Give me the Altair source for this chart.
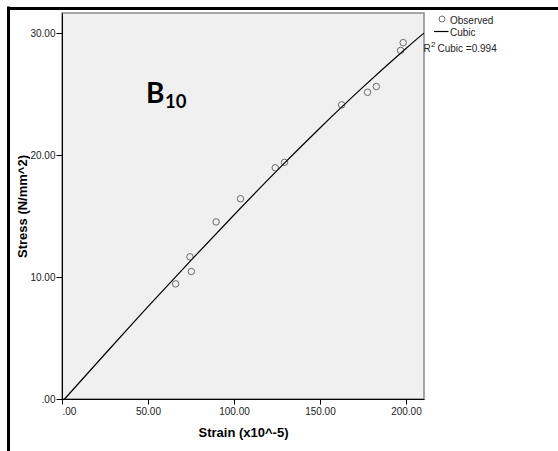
import altair as alt
import pandas as pd

strain = [66.1, 75.2, 74.4, 89.6, 103.8, 124.0, 129.4, 162.6, 177.7, 182.8, 196.9, 198.4]
stress = [9.44, 10.45, 11.66, 14.52, 16.42, 18.96, 19.40, 24.12, 25.15, 25.62, 28.58, 29.22]

# Cubic fit curve
fit_strain = [1.5, 25, 50, 75, 100, 125, 150, 175, 200, 210.5]
fit_stress = [0.0, 3.69, 7.57, 11.37, 15.09, 18.72, 22.22, 25.57, 28.74, 30.0]

x_ticks = [0, 50, 100, 150, 200]
y_ticks = [0, 10, 20, 30]
legend_labels = ["Observed", "Cubic"]
r2_parts = ["R", "2", "Cubic =0.994"]
panel_main = ["B"]
panel_sub = ["10"]

FONT = "Liberation Sans"
LABEL_EXPR = "datum.value == 0 ? '.00' : format(datum.value, '.2f')"

obs = pd.DataFrame({"strain": strain, "stress": stress})
fit = pd.DataFrame({"strain": fit_strain, "stress": fit_stress})

xscale = alt.Scale(domain=[0, 210.5], nice=False, zero=False)
yscale = alt.Scale(domain=[0, 31.65], nice=False, zero=False)

xaxis = alt.Axis(values=x_ticks, labelExpr=LABEL_EXPR, title="Strain (x10^-5)",
                 tickSize=5, labelPadding=2, titleX=181, titleY=33,
                 titleBaseline="middle", titleAlign="center")
yaxis = alt.Axis(values=y_ticks, labelExpr=LABEL_EXPR, title="Stress (N/mm^2)",
                 tickSize=6, labelPadding=1, titleX=-40, titleY=193,
                 titleAngle=-90, titleBaseline="middle", titleAlign="center")

points = alt.Chart(obs).mark_point(shape="circle", filled=False, color="#333333",
                                   size=42, strokeWidth=1).encode(
    x=alt.X("strain:Q", scale=xscale, axis=xaxis),
    y=alt.Y("stress:Q", scale=yscale, axis=yaxis),
)

line = alt.Chart(fit).mark_line(color="black", strokeWidth=1.2, interpolate="natural").encode(
    x=alt.X("strain:Q", scale=xscale, axis=xaxis),
    y=alt.Y("stress:Q", scale=yscale, axis=yaxis),
)

# Panel label B10
b_main = alt.Chart(pd.DataFrame({"t": panel_main})).mark_text(
    font="Lato", fontWeight="bold", fontSize=28, align="left", baseline="alphabetic", color="black"
).encode(x=alt.value(84), y=alt.value(90), text="t:N")
b_sub = alt.Chart(pd.DataFrame({"t": panel_sub})).mark_text(
    font="Lato", fontWeight="bold", fontSize=18.5, align="left", baseline="alphabetic", color="black"
).encode(x=alt.value(103), y=alt.value(95), text="t:N")

# Legend
leg_pt = alt.Chart(pd.DataFrame({"t": legend_labels[:1]})).mark_point(
    shape="circle", filled=False, color="#333333", size=36, strokeWidth=1
).encode(x=alt.value(380), y=alt.value(6))
leg_line = alt.Chart(pd.DataFrame({"t": legend_labels[1:]})).mark_rule(
    color="black", strokeWidth=1.2
).encode(x=alt.value(372), x2=alt.value(386.5), y=alt.value(18.5))
leg_txt = alt.Chart(pd.DataFrame({"t": legend_labels, "yy": [7.5, 19.5]})).mark_text(
    font=FONT, fontSize=10, align="left", baseline="middle", color="#222222"
).encode(x=alt.value(388), y=alt.Y("yy:Q", scale=None), text="t:N")
r2_txt = alt.Chart(pd.DataFrame({"t": r2_parts, "xx": [361.5, 369.0, 375.5],
                                 "yy": [36.2, 32.0, 36.2], "fs": [10, 8, 10]})).mark_text(
    font=FONT, align="left", baseline="middle", color="#222222"
).encode(x=alt.X("xx:Q", scale=None), y=alt.Y("yy:Q", scale=None), text="t:N",
         size=alt.Size("fs:Q", scale=None, legend=None))

# Outer frame (decorative)
frame_v = alt.Chart(pd.DataFrame({"k": [0]})).mark_rule(color="black", strokeWidth=3).encode(
    x=alt.value(-53.5), y=alt.value(-6.5), y2=alt.value(440))
frame_h = alt.Chart(pd.DataFrame({"k": [0]})).mark_rule(color="black", strokeWidth=3).encode(
    x=alt.value(-55), x2=alt.value(500), y=alt.value(-4.5))

chart = alt.layer(
    line, points, b_main, b_sub, leg_pt, leg_line, leg_txt, r2_txt, frame_v, frame_h
).properties(
    width=362, height=386,
    autosize=alt.AutoSizeParams(type="none"),
    padding={"left": 62, "top": 13, "right": 134, "bottom": 52},
    background="white",
).configure_view(
    fill="#F0F0F0", stroke="#8a8a8a", strokeWidth=1.5
).configure_axis(
    domainColor="black", tickColor="black", grid=False,
    labelFont=FONT, labelFontSize=10, labelColor="#222222",
    titleFont=FONT, titleFontSize=13, titleFontWeight="bold", titleColor="black",
)

chart.save("out.html", embed_options={"renderer": "svg", "actions": False})
